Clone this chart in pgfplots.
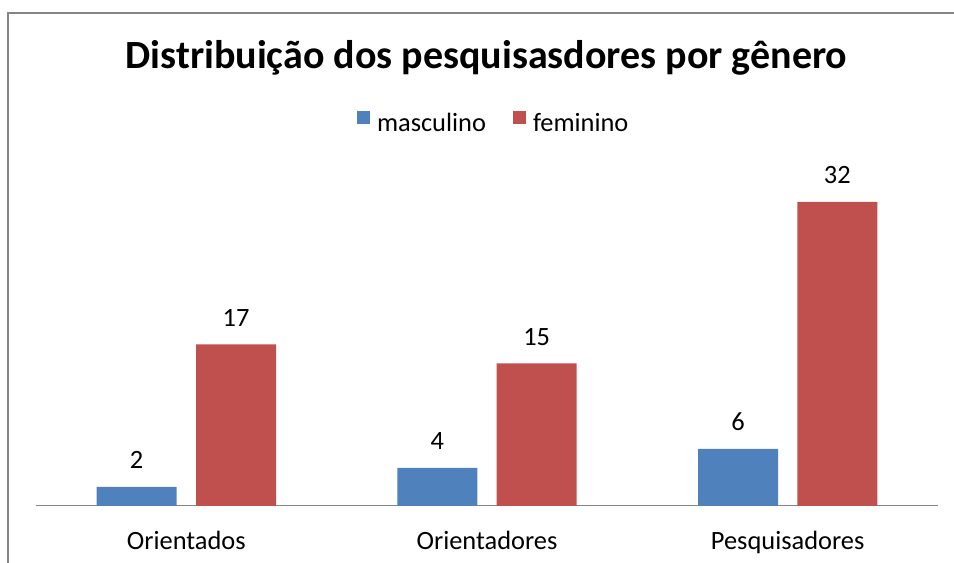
\documentclass[border=0pt]{standalone}
\usepackage{pgfplots}
\pgfplotsset{compat=1.18}
\usepackage{fontspec}
\setmainfont{Carlito}
\definecolor{cblue}{HTML}{4F81BD}
\definecolor{cred}{HTML}{C0504D}
\definecolor{frame}{HTML}{868686}
\begin{document}
\begin{tikzpicture}[x=0.75pt,y=0.75pt]
\path[use as bounding box] (0,0) rectangle (954,563);
\draw[frame,line width=1.5pt] (8,0) -- (8,550) -- (954,550);
\node[anchor=base,font=\fontsize{30}{36}\selectfont\bfseries] at (486.5,494) {Distribuição dos pesquisasdores por gênero};
\begin{axis}[
  at={(27pt,42.75pt)}, anchor=south west,
  scale only axis, width=676.5pt, height=249.4pt,
  ymin=0, ymax=35, xmin=-0.5, xmax=2.5,
  axis x line*=bottom, axis y line=none,
  x axis line style={frame, line width=0.75pt},
  ybar=14.5pt, bar width=60pt,
  xtick=data, xticklabels={Orientados,Orientadores,Pesquisadores},
  major tick length=0pt,
  xticklabel style={font=\fontsize{19.8}{24}\selectfont, anchor=base, yshift=-32.5pt, inner sep=0pt},
  /pgf/number format/assume math mode=true,
  nodes near coords,
  every node near coord/.append style={font=\fontsize{19.8}{24}\selectfont, anchor=south, inner sep=0pt, yshift=13.5pt, text=black},
  legend columns=2,
  legend style={draw=none, fill=none, inner sep=0pt, outer sep=0pt,
    at={(0.3559,1.153)}, anchor=west,
    font=\fontsize{19.8}{24}\selectfont,
    nodes={inner sep=0pt},
    /tikz/every odd column/.append style={column sep=5pt},
    /tikz/every even column/.append style={column sep=20.25pt}},
  legend image code/.code={\fill[#1] (0pt,0pt) rectangle (10pt,9.5pt);},
]
\addplot[fill=cblue, draw=none] coordinates {(0,2) (1,4) (2,6)};
\addplot[fill=cred, draw=none] coordinates {(0,17) (1,15) (2,32)};
\legend{masculino,feminino}
\end{axis}
\end{tikzpicture}
\end{document}
